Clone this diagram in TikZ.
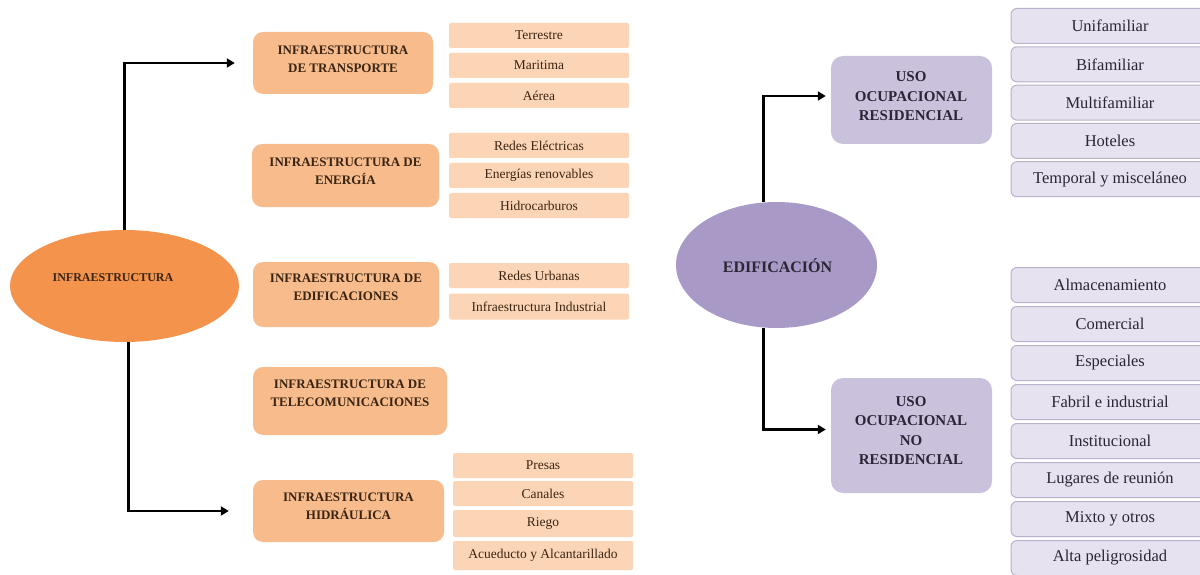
\documentclass[tikz,border=0pt]{standalone}
\usepackage{fontspec}
\setmainfont{Liberation Serif}
\usetikzlibrary{arrows.meta,shapes.geometric,calc}
\definecolor{oEll}{HTML}{F4934B}
\definecolor{oBox}{HTML}{F8BC8C}
\definecolor{oSub}{HTML}{FCD5B6}
\definecolor{oTxt}{HTML}{3A2412}
\definecolor{pEll}{HTML}{A999C6}
\definecolor{pBox}{HTML}{CAC1DD}
\definecolor{pSub}{HTML}{E7E2EF}
\definecolor{pLine}{HTML}{BAB2CA}
\definecolor{pTxt}{HTML}{2C2535}
\tikzset{
  obox/.style={fill=oBox, rounded corners=10pt, inner sep=0pt},
  otext/.style={text=oTxt, align=center, inner sep=0pt, font=\fontsize{13}{18}\selectfont\bfseries},
  osub/.style={fill=oSub, rounded corners=1.5pt, minimum width=180pt, inner sep=0pt, text=oTxt, font=\fontsize{13.5}{15}\selectfont},
  pbox/.style={fill=pBox, rounded corners=12pt, inner sep=0pt, minimum width=161pt},
  ptext/.style={text=pTxt, align=center, inner sep=0pt, font=\fontsize{15}{19.5}\selectfont\bfseries},
  psub/.style={fill=pSub, draw=pLine, line width=1pt, rounded corners=6pt, minimum width=198pt, minimum height=35pt, inner sep=0pt, text=pTxt, font=\fontsize{16.5}{18}\selectfont},
  conn/.style={draw=black, line width=2.6pt, -{Triangle[length=8pt,width=9pt]}},
}
\begin{document}
\begin{tikzpicture}[x=1pt,y=-1pt]
\useasboundingbox (0,0) rectangle (1200,575);
\clip (0,0) rectangle (1200,575);
\fill[white] (0,0) rectangle (1200,575);

% ---------- left: INFRAESTRUCTURA ----------
\node[ellipse, fill=oEll, minimum width=229pt, minimum height=112pt, inner sep=0pt] (infra) at (124.5,286) {};
\node[text=oTxt, inner sep=0pt, font=\fontsize{12}{14}\selectfont\bfseries] (infratxt) at (113,278) {INFRAESTRUCTURA};

\node[obox, minimum width=180pt, minimum height=62pt] (trans) at (343,63) {};
\node[otext] (transtxt) at (343,59) {INFRAESTRUCTURA\\DE TRANSPORTE};
\node[obox, minimum width=187pt, minimum height=63pt] (ener) at (345.5,175.5) {};
\node[otext] (enertxt) at (345.5,171.5) {INFRAESTRUCTURA DE\\ENERGÍA};
\node[obox, minimum width=186pt, minimum height=65pt] (edi) at (346,294.5) {};
\node[otext] (editxt) at (346,287.5) {INFRAESTRUCTURA DE\\EDIFICACIONES};
\node[obox, minimum width=194pt, minimum height=68pt] (tele) at (350,401) {};
\node[otext] (teletxt) at (350,393.5) {INFRAESTRUCTURA DE\\TELECOMUNICACIONES};
\node[obox, minimum width=191pt, minimum height=62pt] (hidr) at (348.5,511) {};
\node[otext] (hidrtxt) at (348.5,506.5) {INFRAESTRUCTURA\\HIDRÁULICA};

\foreach \t [count=\i] in {Terrestre,Maritima,Aérea}
  \node[osub, minimum height=25pt] (tra\i) at (539,{35.5+30*(\i-1)}) {\t};
\foreach \t [count=\i] in {Redes Eléctricas,Energías renovables,Hidrocarburos}
  \node[osub, minimum height=25pt] (ene\i) at (539,{145.5+30*(\i-1)}) {\t};
\node[osub, minimum height=25pt] (edi1) at (539,275.5) {Redes Urbanas};
\node[osub, minimum height=26pt] (edi2) at (539,306.5) {Infraestructura Industrial};
\node[osub, minimum height=25pt] (hid1) at (543,465.5) {Presas};
\node[osub, minimum height=25pt] (hid2) at (543,493.5) {Canales};
\node[osub, minimum height=27pt] (hid3) at (543,523.5) {Riego};
\node[osub, minimum height=29pt] (hid4) at (543,555.5) {Acueducto y Alcantarillado};

\draw[conn, shorten >=18pt] (infra.north) |- (trans.west);
\draw[conn, shorten >=24pt] ([xshift=4pt]infra.south) |- (hidr.west);

% ---------- right: EDIFICACION ----------
\node[ellipse, fill=pEll, minimum width=201pt, minimum height=126pt, inner sep=0pt] (edif) at (776.5,265) {};
\node[text=pTxt, inner sep=0pt, font=\fontsize{16}{18}\selectfont\bfseries] (ediftxt) at (777.5,266) {EDIFICACIÓN};

\node[pbox, minimum height=88pt] (res) at (911.5,100) {};
\node[ptext] (restxt) at (911,96.5) {USO\\OCUPACIONAL\\RESIDENCIAL};
\node[pbox, minimum height=115pt] (nres) at (911.5,435.5) {};
\node[ptext] (nrestxt) at (911,430.5) {USO\\OCUPACIONAL\\NO\\RESIDENCIAL};

\foreach \t [count=\i] in {Unifamiliar,Bifamiliar,Multifamiliar,Hoteles,Temporal y misceláneo}
  \node[psub] (r\i) at (1110,{26+38.3*(\i-1)}) {\t};
\foreach \t [count=\i] in {Almacenamiento,Comercial,Especiales,Fabril e industrial,Institucional,Lugares de reunión,Mixto y otros,Alta peligrosidad}
  \node[psub] (n\i) at (1110,{285+39*(\i-1)}) {\t};

\draw[conn, shorten >=5pt] ([xshift=-13pt]edif.north) |- ([yshift=4pt]res.west);
\draw[conn, shorten >=5pt] ([xshift=-13pt]edif.south) |- ([yshift=6pt]nres.west);
\end{tikzpicture}
\end{document}
